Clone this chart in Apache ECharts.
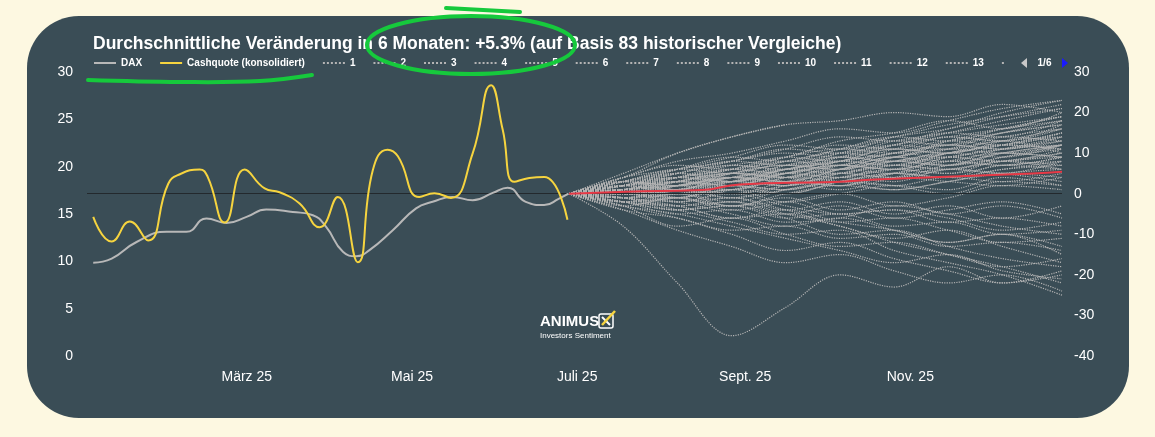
<!DOCTYPE html>
<html><head><meta charset="utf-8">
<script src="https://cdn.jsdelivr.net/npm/echarts@6/dist/echarts.min.js"></script>
<style>
html,body{margin:0;padding:0;background:#fdf8e1;}
#wrap{position:relative;width:1155px;height:437px;}
#panel{position:absolute;left:27px;top:16px;width:1102px;height:402px;border-radius:52px;background:#3a4d56;}
#c{position:absolute;left:0;top:0;width:1155px;height:437px;}
</style></head><body>
<div id="wrap"><div id="panel"></div><div id="c"></div></div>
<script>
// x values = day of year 2025 (0 = Jan 1)
const cashDays = [2.3,9.1,15.8,22.6,30,34.3,41.6,44.6,50.9,58.2,65.6,71.1,78.5,85.9,92.6,100,105.5,111,114.8,122.7,128.3,134.4,142.4,149.2,153.5,157.8,163.3,168.8,177.4];
const cashValues = [14.7,12.1,14.2,12.2,18.2,19.2,19.7,18.9,14.1,19.7,17.7,17.3,16.1,13.6,16.8,9.9,19.6,21.8,21.1,16.8,17.2,16.7,21.4,28.6,23.9,18.4,18.8,18.9,14.4];
const daxDays = [2.3,9.1,18.3,29.4,36.7,44.1,51.5,58.9,66.2,76,83.4,88.3,94.5,99.4,104.3,112.9,121.5,127.6,135,142.4,149.8,155.3,162,168.8,174.3,177.8];
const daxValues = [-17.0,-16.0,-11.9,-9.4,-9.4,-6.1,-7.2,-5.7,-3.9,-4.5,-5.3,-8.2,-14.3,-15.4,-13.9,-9.0,-3.6,-2.0,-0.8,-1.6,0.2,1.5,-2.0,-2.8,-1.2,0];
const meanDays = [178,199,227,241,276,291,315,349,360];
const meanValues = [0,0.5,0.9,2.3,2.9,3.5,4.1,5.0,5.4];
const histDays = [178,198,218,238,258,278,298,318,338,360];
const histPaths = [
[1,3,2,5,7,6,9,11,12],[-2,-4,-3,-6,-5,-8,-7,-10,-9],[2,5,8,7,10,13,12,15,17],[0,-1,2,1,3,2,4,3,5],
[3,6,9,12,11,14,17,19,21],[-1,1,0,3,5,4,7,8,6],[-3,-8,-6,-10,-13,-12,-15,-18,-16],[1,2,4,3,6,8,7,10,9],
[2,1,3,5,4,6,5,7,8],[-8,-22,-35,-28,-20,-23,-18,-22,-20],[4,8,10,13,16,15,18,21,23],[0,2,1,4,6,8,10,9,12],
[-2,0,-3,-1,-4,-2,-5,-3,-6],[3,2,5,7,6,9,11,13,14],[1,-1,2,0,3,5,4,6,7],[5,10,14,17,18,20,19,22,20],
[-1,-3,-2,-5,-8,-12,-15,-18,-22],[2,4,3,6,5,8,10,12,11],[0,1,3,2,5,4,6,8,10],[-4,-6,-9,-8,-11,-10,-13,-12,-14],
[1,3,6,5,8,10,13,12,15],[2,0,1,3,2,4,3,2,4],[-2,-5,-4,-7,-6,-3,-5,-8,-10],[3,5,4,7,9,12,14,16,18],
[0,-2,1,3,2,5,4,7,6],[1,4,7,6,9,8,11,14,13],[-3,-1,-4,-2,0,-3,-1,2,1],[2,3,5,8,7,10,9,12,14],
[-1,-4,-7,-10,-9,-14,-17,-20,-25],[4,7,6,9,12,11,14,13,16],[0,2,4,3,1,4,6,5,8],[-2,-3,-1,-4,-7,-6,-9,-12,-11],
[1,0,3,6,8,7,10,12,15],[3,6,8,11,10,13,15,17,19],[-1,0,-2,1,3,2,0,3,2],[2,5,3,6,8,11,10,13,16],
[-3,-6,-10,-14,-12,-16,-19,-22,-19],[1,2,0,2,4,6,5,8,7],[0,3,5,4,7,9,12,11,13],[2,4,7,9,13,15,18,16,20],
[-2,-1,-3,0,2,1,3,5,4],[1,3,2,5,4,7,6,9,11],[3,1,4,2,5,7,9,8,10],[-1,-3,-6,-5,-8,-11,-9,-13,-17],
[0,1,-1,2,4,3,6,5,3],[2,6,9,8,11,14,16,19,22],[1,-1,-3,-2,-5,-4,-7,-6,-8],[3,4,6,5,8,10,12,11,14],
[-1,2,4,6,5,8,7,9,12],[0,-2,-5,-8,-6,-9,-12,-10,-13],[2,3,1,4,6,5,8,10,9],[1,4,6,9,11,10,13,15,17],
[-2,-4,-2,-5,-3,-6,-4,-2,-5],[4,6,8,10,9,12,15,18,21],[0,1,3,5,7,6,8,7,9],[-4,-9,-13,-17,-15,-19,-22,-20,-24],
[2,1,4,3,6,9,8,11,13],[1,3,5,4,2,5,7,10,12],[-1,0,2,1,4,6,9,8,11],[3,5,8,11,14,13,16,20,23],
[0,-1,1,-2,0,2,1,4,2],[2,4,3,5,8,7,10,12,15],[-3,-5,-8,-11,-14,-17,-15,-19,-21],[1,2,5,7,6,9,11,10,12],
[-1,-2,0,-3,-5,-4,-6,-9,-7],[2,5,7,6,9,12,11,14,16],[0,3,2,5,7,10,12,15,18],[1,0,2,4,3,1,3,5,6],
[-2,-3,-6,-4,-7,-9,-12,-10,-15],[3,6,5,8,10,9,13,16,19],[1,2,4,6,9,8,10,13,10],[-1,1,3,2,5,7,6,8,9],
[2,4,6,9,8,11,14,13,17],[0,-2,-1,-4,-2,-5,-3,-6,-3],[1,3,6,8,11,14,13,16,19],[-2,-1,1,0,3,5,8,7,9],
[3,2,4,7,10,12,15,14,18],[0,2,5,4,6,9,7,10,12],[-1,-4,-3,-6,-10,-9,-13,-16,-18],[2,3,5,4,7,6,9,11,14],
[1,4,3,6,8,11,10,12,11],[0,1,-1,1,3,5,4,6,8],[4,10,14,17,null,null,null,null,null]
];
const monthTicks = [59,120,181,243,304];
const monthLabels = ['März 25','Mai 25','Juli 25','Sept. 25','Nov. 25'];
const titleText = 'Durchschnittliche Veränderung in 6 Monaten: +5.3% (auf Basis 83 historischer Vergleiche)';

const pair = (xs, ys) => xs.map((x,i)=>[x, ys[i]]);
const series = [
 {name:'DAX',type:'line',yAxisIndex:1,data:pair(daxDays,daxValues),smooth:true,symbol:'none',
  lineStyle:{color:'#b8b8b8',width:2},itemStyle:{color:'#b8b8b8'},z:5,
  markLine:{silent:true,symbol:'none',label:{show:false},lineStyle:{color:'#23292d',width:1,type:'solid'},data:[{yAxis:0}]}},
 {name:'Cashquote (konsolidiert)',type:'line',yAxisIndex:0,data:pair(cashDays,cashValues),smooth:true,symbol:'none',
  lineStyle:{color:'#f6d43f',width:2},itemStyle:{color:'#f6d43f'},z:6}
];
const legendNames = ['DAX','Cashquote (konsolidiert)'];
histPaths.forEach((p,i)=>{
  const nm = String(i+1); legendNames.push(nm);
  series.push({name:nm,type:'line',yAxisIndex:1,data:pair(histDays,[0].concat(p)).filter(d=>d[1]!==null),
    smooth:0.35,symbol:'none',lineStyle:{color:'#b4b4b4',width:1.2,type:'dotted'},itemStyle:{color:'#b4b4b4'},z:2});
});
series.push({name:'Durchschnitt',type:'line',yAxisIndex:1,data:pair(meanDays,meanValues),smooth:true,symbol:'none',
  lineStyle:{color:'#e63946',width:2},itemStyle:{color:'#e63946'},z:8});

const chart = echarts.init(document.getElementById('c'));
chart.setOption({
  backgroundColor:'transparent',animation:false,
  textStyle:{fontFamily:'Liberation Sans, Arial, sans-serif'},
  title:{text:titleText,left:88,top:30,textStyle:{color:'#fff',fontSize:17.5,fontWeight:'bold'}},
  legend:{type:'scroll',data:legendNames,left:88,width:975,top:53,itemWidth:22,itemHeight:8,itemGap:17,
    itemStyle:{opacity:0},
    textStyle:{color:'#fff',fontSize:10,fontWeight:'bold'},pageIconColor:'#1a1aff',pageIconInactiveColor:'#c8c8c8',
    pageIconSize:10,pageTextStyle:{color:'#fff',fontSize:10,fontWeight:'bold'}},
  grid:{left:87,right:93,top:72,bottom:81},
  xAxis:{type:'value',min:0,max:360,axisLine:{show:false},axisTick:{show:false},splitLine:{show:false},
    axisLabel:{customValues:monthTicks,color:'#fff',fontSize:14,margin:14,formatter:v=>monthLabels[monthTicks.indexOf(v)]||''}},
  yAxis:[
    {type:'value',min:0,max:30,interval:5,splitLine:{show:false},axisLine:{show:false},axisTick:{show:false},
     axisLabel:{color:'#fff',fontSize:14,margin:14}},
    {type:'value',min:-40,max:30,interval:10,splitLine:{show:false},axisLine:{show:false},axisTick:{show:false},
     axisLabel:{color:'#fff',fontSize:14,margin:12}}
  ],
  graphic:[
    {type:'text',left:540,top:314,style:{text:'ANIMUS',fill:'#fff',font:'bold 15px Liberation Sans, Arial'},z:20},
    {type:'rect',shape:{x:599,y:314,width:14,height:14,r:2},style:{fill:'none',stroke:'#fff',lineWidth:1.5},z:20},
    {type:'line',shape:{x1:602,y1:317,x2:610,y2:325},style:{stroke:'#fff',lineWidth:2},z:21},
    {type:'line',shape:{x1:602,y1:325,x2:615,y2:311},style:{stroke:'#f6d43f',lineWidth:2.5},z:21},
    {type:'text',left:540,top:332,style:{text:'Investors Sentiment',fill:'#fff',font:'8px Liberation Sans, Arial'},z:20},
    {type:'ellipse',shape:{cx:471,cy:45,rx:104,ry:29},style:{fill:'none',stroke:'#16c93c',lineWidth:4},z:30},
    {type:'polyline',shape:{points:[[88,80],[180,82],[260,81],[312,75]],smooth:0.4},style:{stroke:'#16c93c',lineWidth:4,lineCap:'round'},z:30},
    {type:'polyline',shape:{points:[[446,8],[520,12]]},style:{stroke:'#16c93c',lineWidth:4,lineCap:'round'},z:30}
  ],
  series:series
});
</script></body></html>
